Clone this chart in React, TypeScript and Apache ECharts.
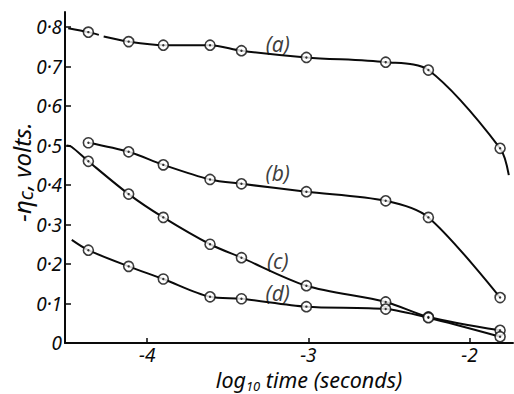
import React, { useEffect, useRef } from "react";
import * as echarts from "echarts";

// log10 time (seconds) of the measured points (shared by all curves)
const logTime = [-4.365, -4.115, -3.9, -3.61, -3.415, -3.012, -2.52, -2.255, -1.81];
// -eta_c (volts) for each curve
const curveA = [0.787, 0.763, 0.754, 0.754, 0.740, 0.723, 0.711, 0.691, 0.493];
const curveB = [0.507, 0.484, 0.451, 0.414, 0.403, 0.383, 0.360, 0.318, 0.115];
const curveC = [0.460, 0.377, 0.318, 0.250, 0.216, 0.145, 0.104, 0.066, 0.032];
const curveD = [0.235, 0.194, 0.162, 0.117, 0.112, 0.092, 0.086, 0.064, 0.016];
// drawn continuations of the curves beyond the measured points
const leadA = [[-4.49, 0.797]];
const gapA = [[-4.30, 0.780], [-4.27, 0.776]];
const tailA = [[-1.756, 0.425]];
const leadC = [[-4.50, 0.50], [-4.47, 0.497]];
const leadD = [[-4.468, 0.261]];
// curve labels
const labelNames = ["(a)", "(b)", "(c)", "(d)"];
const labelPos = [[-3.19, 0.758], [-3.19, 0.43], [-3.19, 0.208], [-3.19, 0.127]];
const xTicks = [-4, -3, -2];

const FONT = "Noto Sans";
const INK = "#0a0a0a";

export default function App() {
  const ref = useRef<HTMLDivElement>(null);
  useEffect(() => {
    const chart = echarts.init(ref.current!, null, { renderer: "svg" });
    const pts = (ys: number[]) => logTime.map((x, i) => [x, ys[i]]);
    const lineStyle = { color: INK, width: 2 };
    const line = (data: number[][]) => ({
      type: "line",
      data,
      showSymbol: false,
      smooth: 0.3,
      lineStyle,
      silent: true,
      z: 2,
    });
    const a = pts(curveA);
    const allPts = [...pts(curveA), ...pts(curveB), ...pts(curveC), ...pts(curveD)];
    const txt = { fontFamily: FONT, fontStyle: "italic", color: INK };
    chart.setOption({
      animation: false,
      backgroundColor: "#fff",
      grid: { left: 65, right: 1, top: 12, bottom: 51, containLabel: false, outerBoundsMode: "none" },
      graphic: [
        {
          type: "text",
          x: 21,
          y: 172,
          rotation: Math.PI / 2,
          silent: true,
          style: {
            text: "{n|-η}{s|c}{n|, volts.}",
            align: "center",
            verticalAlign: "middle",
            rich: {
              n: { fontFamily: FONT, fontStyle: "italic", fontSize: 24, fill: INK, lineHeight: 28 },
              s: { fontFamily: FONT, fontStyle: "italic", fontSize: 20, fill: INK, lineHeight: 28, verticalAlign: "bottom", padding: [3, 1, 0, 0] },
            },
          },
        },
      ],
      xAxis: {
        type: "value",
        min: -4.51,
        max: -1.73,
        splitLine: { show: false },
        axisLine: { lineStyle: { color: INK, width: 2 } },
        axisTick: { inside: true, length: 5, lineStyle: { color: INK, width: 1.5 }, customValues: xTicks },
        axisLabel: {
          ...txt,
          customValues: xTicks,
          fontSize: 19,
          margin: 2,
          formatter: (v: number) => String(v),
        },
        name: "{n|log}{s|10}{n| time (seconds)}",
        nameLocation: "middle",
        nameGap: 22,
        nameTextStyle: {
          padding: [0, 0, 0, 40],
          rich: {
            n: { ...txt, fontSize: 21.5, lineHeight: 26 },
            s: { ...txt, fontSize: 13, lineHeight: 26, verticalAlign: "bottom", padding: [8, 0, 0, 0] },
          },
        },
      },
      yAxis: {
        type: "value",
        min: 0,
        max: 0.838,
        interval: 0.1,
        splitLine: { show: false },
        axisLine: { lineStyle: { color: INK, width: 2 } },
        axisTick: { inside: true, length: 6, lineStyle: { color: INK, width: 1.5 } },
        axisLabel: {
          ...txt,
          fontSize: 19,
          margin: 3,
          showMaxLabel: false,
          formatter: (v: number) => (v === 0 ? "0" : v > 0.83 ? "" : v.toFixed(1).replace(".", "·")),
        },
      },
      series: [
        line([...leadA, a[0], gapA[0]]),
        line([gapA[1], ...a.slice(1), ...tailA]),
        line(pts(curveB)),
        line([...leadC, ...pts(curveC)]),
        line([...leadD, ...pts(curveD)]),
        {
          type: "scatter",
          data: allPts,
          symbol: "circle",
          symbolSize: 10,
          itemStyle: { color: "#fff", borderColor: INK, borderWidth: 1.6 },
          silent: true,
          z: 3,
        },
        {
          type: "scatter",
          data: allPts,
          symbol: "circle",
          symbolSize: 2.4,
          itemStyle: { color: INK },
          silent: true,
          z: 4,
        },
        {
          type: "scatter",
          data: labelPos.map((p, i) => ({ value: p, name: labelNames[i] })),
          symbolSize: 0,
          silent: true,
          z: 5,
          label: {
            show: true,
            position: "inside",
            formatter: (p: any) => p.name,
            ...txt,
            fontSize: 21,
          },
        },
      ],
    });
    return () => chart.dispose();
  }, []);
  return <div ref={ref} style={{ position: "fixed", left: 0, top: 0, width: 514, height: 394, background: "#fff" }} />;
}
